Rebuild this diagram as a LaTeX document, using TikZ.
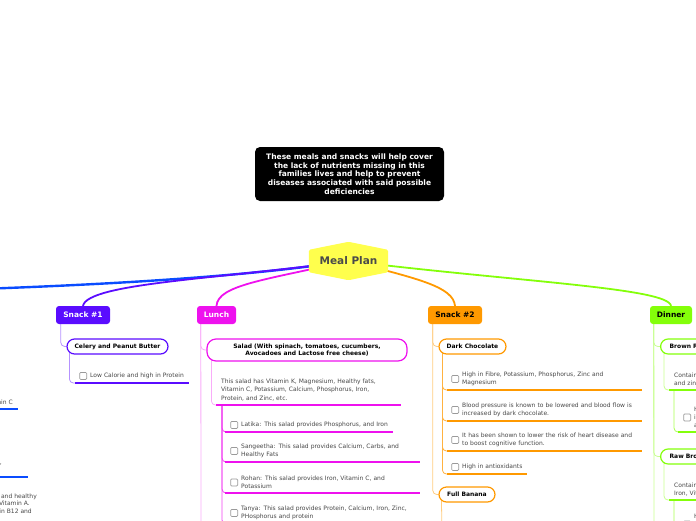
\documentclass[tikz,border=0pt]{standalone}
\usepackage{fontspec}
\setmainfont{DejaVu Sans}
\usepackage{tikz}
\usetikzlibrary{backgrounds}
\definecolor{branchBlue}{HTML}{0A4CFF}
\definecolor{snackPurple}{HTML}{5A0CFF}
\definecolor{lunchMagenta}{HTML}{EE11EE}
\definecolor{snackOrange}{HTML}{FF9900}
\definecolor{dinnerGreen}{HTML}{84FF0A}
\definecolor{mealYellow}{HTML}{FFFF4D}
\definecolor{mealGray}{HTML}{4A4A4A}
\definecolor{itemGray}{HTML}{474747}
\definecolor{boxGray}{HTML}{9A9A9A}
\tikzset{
  branch/.style={line width=1.8pt, line cap=round},
  twig/.style={draw=#1, line width=0.8pt, rounded corners=4pt},
  ul/.style={draw=#1, line width=2.4pt},
  summary/.style={fill=black, rounded corners=5pt, minimum width=189pt, minimum height=54pt, inner sep=0pt, text=white, align=center, font=\fontsize{7.5}{8.8}\selectfont\bfseries},
  root/.style={minimum width=79pt, minimum height=38pt, inner sep=0pt, text=mealGray, font=\fontsize{10.5}{12}\selectfont\bfseries},
  mainbox/.style={rounded corners=3pt, minimum height=18pt, inner sep=0pt, font=\fontsize{7.5}{9}\selectfont\bfseries},
  topic/.style={draw=#1, fill=white, line width=1.2pt, rounded corners=7.5pt, minimum height=15pt, inner sep=0pt, align=center, font=\fontsize{6}{7.6}\selectfont\bfseries},
  itm/.style={anchor=south west, align=left, inner xsep=0pt, inner ysep=4pt, text=itemGray, font=\fontsize{6}{8}\selectfont},
  chk/.style={draw=boxGray, fill=white, line width=0.7pt, rounded corners=1pt, minimum size=7pt, inner sep=0pt},
  ck/.style={label={[chk, xshift=-3pt]left:{}}},
}

\begin{document}
\begin{tikzpicture}[x=1pt, y=-1pt]
  \useasboundingbox (0,0) rectangle (696,520);
  \clip (0,0) rectangle (696,520);

  \node[summary] (summary) at (349.5,174) {These meals and snacks will help cover\\the lack of nutrients missing in this\\families lives and help to prevent\\diseases associated with said possible\\deficiencies};

  \node[root] (meal) at (348.5,261) {Meal Plan};

  % main topics
  \node[mainbox, fill=snackPurple, text=white, minimum width=54pt] (snack1) at (83,315) {Snack \#1};
  \node[mainbox, fill=lunchMagenta, text=white, minimum width=39pt] (lunch) at (216.5,315) {Lunch};
  \node[mainbox, fill=snackOrange, minimum width=54pt] (snack2) at (455,315) {Snack \#2};
  \node[mainbox, fill=dinnerGreen, minimum width=42pt] (dinner) at (671,315) {Dinner};
  \coordinate (leftBranch) at (-20,289);
  \coordinate (lunchMore) at (201,530);
  \coordinate (bananaMore) at (442,530);
  \coordinate (dinnerMore) at (654,530);

  % left branch (cut by the edge)
  \node[itm, anchor=south east, align=right] (lf1) at (13,409) {Rich in Vitamin C};
  \node[itm, anchor=south east, align=right] (lf2) at (2,477) {Good source of Fibre and Protein,\\Iron and Zinc\kern12pt};
  \node[itm, anchor=north east, align=right, font=\fontsize{6}{7.6}\selectfont] (lf3) at (37,489.5) {Eggs contain Protein, Iron and healthy\\fats, and are rich in Vitamin A.\kern7pt\\Vitamin D, Vitamin B12 and\kern5pt};

  % Snack #1
  \node[topic=snackPurple, minimum width=101pt] (celery) at (117.5,346.5) {Celery and Peanut Butter};
  \node[itm, ck, text width=99pt] (lowcal) at (90,383) {Low Calorie and high in Protein};

  % Lunch
  \node[topic=lunchMagenta, minimum width=200pt, minimum height=22pt, rounded corners=9pt] (salad) at (307,350) {Salad (With spinach, tomatoes, cucumbers,\\Avocadoes and Lactose free cheese)};
  \node[itm, text width=180pt, font=\fontsize{6}{8.5}\selectfont] (salnote) at (221,405) {This salad has Vitamin K, Magnesium, Healthy fats,\\Vitamin C, Potassium, Calcium, Phosphorus, Iron,\\Protein, and Zinc, etc.};
  \node[itm, ck, text width=152pt] (latika) at (241,432) {Latika: This salad provides Phosphorus, and Iron};
  \node[itm, ck, text width=179pt] (sangeetha) at (241,462) {Sangeetha: This salad provides Calcium, Carbs, and\\Healthy Fats};
  \node[itm, ck, text width=179pt] (rohan) at (241,493) {Rohan: This salad provides Iron, Vitamin C, and\\Potassium};
  \node[itm, ck, text width=179pt] (tanya) at (241,524) {Tanya: This salad provides Protein, Calcium, Iron, Zinc,\\PHosphorus and protein};

  % Snack #2
  \node[topic=snackOrange, minimum width=67pt] (darkchoc) at (472.5,346.5) {Dark Chocolate};
  \node[itm, ck, text width=180pt] (dc1) at (462,390) {High in Fibre, Potassium, Phosphorus, Zinc and\\Magnesium};
  \node[itm, ck, text width=180pt] (dc2) at (462,421) {Blood pressure is known to be lowered and blood flow is\\increased by dark chocolate.};
  \node[itm, ck, text width=180pt] (dc3) at (462,451) {It has been shown to lower the risk of heart disease and\\to boost cognitive function.};
  \node[itm, ck, text width=65pt] (dc4) at (462,474) {High in antioxidants};
  \node[topic=snackOrange, minimum width=56pt] (banana) at (467,494.5) {Full Banana};

  % Dinner
  \node[topic=dinnerGreen, anchor=west, inner xsep=9pt] (brown) at (660,346.5) {Brown Rice};
  \node[itm, text width=100pt] (br1) at (674,390) {Contains Magnesium\\and zinc};
  \node[itm, ck, text width=100pt] (br2) at (694,432) {High in fibre which\\improves digestion\\and heart health};
  \node[topic=dinnerGreen, anchor=west, inner xsep=9pt] (raw) at (660,456.5) {Raw Broccoli};
  \node[itm, text width=100pt] (rb1) at (674,500) {Contains Calcium,\\Iron, Vitamin C};
  \node[itm, ck, text width=100pt] (rb2) at (694,539) {High in Vitamin K\\and Folate\\and antioxidants};

  % underlines
  \draw[ul=branchBlue] ([xshift=-20pt]lf1.south west) -- ([xshift=5pt]lf1.south east);
  \draw[ul=branchBlue] ([xshift=-20pt]lf2.south west) -- ([xshift=26pt]lf2.south east);
  \draw[ul=snackPurple] ([xshift=-15pt]lowcal.south west) -- (lowcal.south east);
  \draw[ul=lunchMagenta] ([xshift=-5pt]salnote.south west) -- (salnote.south east);
  \draw[ul=lunchMagenta] ([xshift=-16pt]latika.south west) -- (latika.south east);
  \draw[ul=lunchMagenta] ([xshift=-16pt]sangeetha.south west) -- (sangeetha.south east);
  \draw[ul=lunchMagenta] ([xshift=-16pt]rohan.south west) -- (rohan.south east);
  \draw[ul=lunchMagenta] ([xshift=-16pt]tanya.south west) -- (tanya.south east);
  \draw[ul=snackOrange] ([xshift=-15pt]dc1.south west) -- (dc1.south east);
  \draw[ul=snackOrange] ([xshift=-15pt]dc2.south west) -- (dc2.south east);
  \draw[ul=snackOrange] ([xshift=-15pt]dc3.south west) -- (dc3.south east);
  \draw[ul=snackOrange] ([xshift=-15pt]dc4.south west) -- (dc4.south east);
  \draw[ul=dinnerGreen] ([xshift=-5pt]br1.south west) -- (br1.south east);
  \draw[ul=dinnerGreen] ([xshift=-16pt]br2.south west) -- (br2.south east);
  \draw[ul=dinnerGreen] ([xshift=-5pt]rb1.south west) -- (rb1.south east);
  \draw[ul=dinnerGreen] ([xshift=-16pt]rb2.south west) -- (rb2.south east);

  \begin{pgfonlayer}{background}
    \clip (0,0) rectangle (696,520);
    % branches out of the central topic
    \draw[branch, branchBlue, line width=2.4pt] (meal.center) .. controls (250,276) and (120,284) .. (leftBranch);
    \draw[branch, snackPurple] (meal.center) .. controls (220,279) and (88,283) .. (snack1.north);
    \draw[branch, lunchMagenta] (meal.center) .. controls (265,280) and (218,285) .. (lunch.north);
    \draw[branch, snackOrange] (meal.center) .. controls (420,279) and (453,287) .. (snack2.north);
    \draw[branch, dinnerGreen] (meal.center) .. controls (520,282) and (668,288) .. (dinner.north);

    \draw[twig=snackPurple!45] ([xshift=5pt,yshift=2pt]snack1.south west) |- (celery.west);
    \draw[twig=snackPurple!45] ([xshift=3pt,yshift=4pt]celery.south west) |- ([xshift=-15pt]lowcal.south west);

    \draw[twig=lunchMagenta!35] ([xshift=4pt,yshift=2pt]lunch.south west) |- (salad.west);
    \draw[twig=lunchMagenta!35] ([xshift=4pt,yshift=2pt]lunch.south west) -- (lunchMore);
    \draw[twig=lunchMagenta!35] ([xshift=5pt,yshift=4pt]salad.south west) |- ([xshift=-5pt]salnote.south west);
    \draw[twig=lunchMagenta!80] ([xshift=1pt]salnote.south west) |- ([xshift=-16pt]latika.south west);
    \draw[twig=lunchMagenta!80] ([xshift=1pt]salnote.south west) |- ([xshift=-16pt]sangeetha.south west);
    \draw[twig=lunchMagenta!80] ([xshift=1pt]salnote.south west) |- ([xshift=-16pt]rohan.south west);
    \draw[twig=lunchMagenta!80] ([xshift=1pt]salnote.south west) |- ([xshift=-16pt]tanya.south west);

    \draw[twig=snackOrange!50] ([xshift=5pt,yshift=2pt]snack2.south west) |- (darkchoc.west);
    \draw[twig=snackOrange!50] ([xshift=5pt,yshift=2pt]snack2.south west) |- (banana.west);
    \draw[twig=snackOrange!75] ([xshift=4pt,yshift=4pt]darkchoc.south west) |- ([xshift=-15pt]dc1.south west);
    \draw[twig=snackOrange!75] ([xshift=4pt,yshift=4pt]darkchoc.south west) |- ([xshift=-15pt]dc2.south west);
    \draw[twig=snackOrange!75] ([xshift=4pt,yshift=4pt]darkchoc.south west) |- ([xshift=-15pt]dc3.south west);
    \draw[twig=snackOrange!75] ([xshift=4pt,yshift=4pt]darkchoc.south west) |- ([xshift=-15pt]dc4.south west);
    \draw[twig=snackOrange!50] ([xshift=3pt,yshift=4pt]banana.south west) -- (bananaMore);

    \draw[twig=dinnerGreen!45] ([xshift=4pt,yshift=2pt]dinner.south west) |- (brown.west);
    \draw[twig=dinnerGreen!45] ([xshift=4pt,yshift=2pt]dinner.south west) |- (raw.west);
    \draw[twig=dinnerGreen!45] ([xshift=4pt,yshift=2pt]dinner.south west) -- (dinnerMore);
    \draw[twig=dinnerGreen!45] ([xshift=4pt,yshift=4pt]brown.south west) |- ([xshift=-5pt]br1.south west);
    \draw[twig=dinnerGreen!70] (br1.south west) |- ([xshift=-16pt]br2.south west);
    \draw[twig=dinnerGreen!45] ([xshift=4pt,yshift=4pt]raw.south west) |- ([xshift=-5pt]rb1.south west);
    \draw[twig=dinnerGreen!70] (rb1.south west) |- ([xshift=-16pt]rb2.south west);

    % hexagon of the central topic
    \fill[mealYellow, rounded corners=1.5pt] (meal.north) -- ([yshift=-8pt]meal.north east) -- ([yshift=8pt]meal.south east) -- (meal.south) -- ([yshift=8pt]meal.south west) -- ([yshift=-8pt]meal.north west) -- cycle;
  \end{pgfonlayer}
\end{tikzpicture}
\end{document}
